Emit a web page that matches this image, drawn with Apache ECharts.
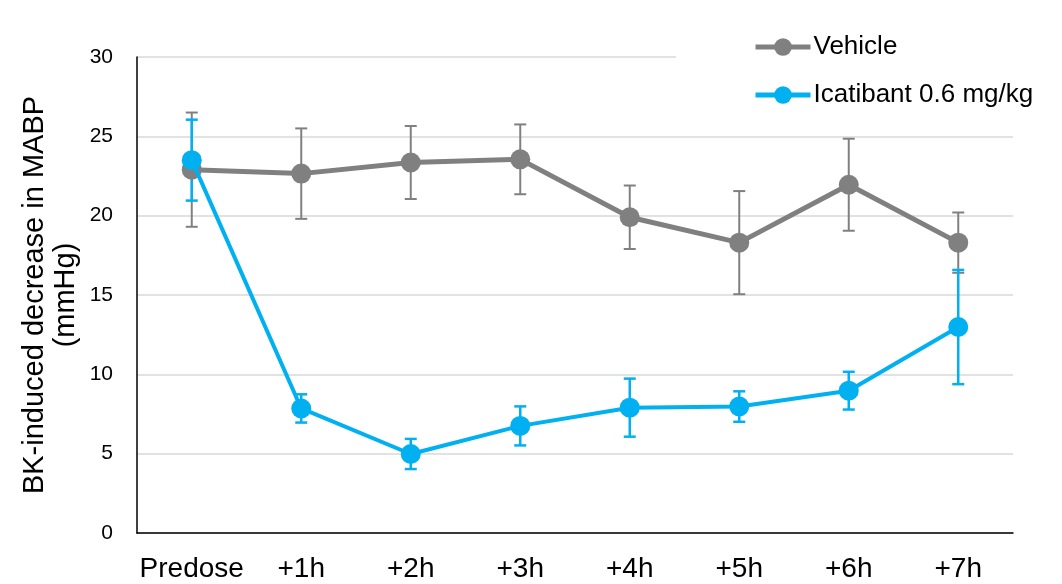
<!DOCTYPE html>
<html>
<head>
<meta charset="utf-8">
<script src="https://cdn.jsdelivr.net/npm/echarts@6/dist/echarts.min.js"></script>
<style>html,body{margin:0;padding:0;background:#fff}#c{width:1062px;height:584px}</style>
</head>
<body>
<div id="c"></div>
<script>
var categories = ['Predose', '+1h', '+2h', '+3h', '+4h', '+5h', '+6h', '+7h'];
var vehicleMean = [22.9, 22.65, 23.35, 23.55, 19.9, 18.3, 21.95, 18.3];
var vehicleErr  = [3.6, 2.85, 2.3, 2.2, 2.0, 3.25, 2.9, 1.9];
var icaMean = [23.5, 7.85, 4.98, 6.75, 7.9, 7.97, 8.97, 12.98];
var icaErr  = [2.55, 0.89, 0.95, 1.23, 1.83, 0.96, 1.19, 3.6];
var yTicks = [0, 5, 10, 15, 20, 25, 30];

var FONT = '"Liberation Sans", Arial, sans-serif';
var GRAY = '#808080', BLUE = '#00b0f0';

function errSeries(name, means, errs, color, lw) {
  var data = means.map(function (m, i) { return [i, m - errs[i], m + errs[i]]; });
  return {
    type: 'custom', name: name + ' err', silent: true, z: 2,
    data: data,
    encode: { x: 0, y: [1, 2] },
    renderItem: function (params, api) {
      var x = api.value(0);
      var lo = api.coord([x, api.value(1)]);
      var hi = api.coord([x, api.value(2)]);
      var hw = 6;
      var st = { stroke: color, lineWidth: lw };
      return {
        type: 'group',
        children: [
          { type: 'line', shape: { x1: lo[0], y1: lo[1], x2: hi[0], y2: hi[1] }, style: st },
          { type: 'line', shape: { x1: lo[0] - hw, y1: lo[1], x2: lo[0] + hw, y2: lo[1] }, style: st },
          { type: 'line', shape: { x1: hi[0] - hw, y1: hi[1], x2: hi[0] + hw, y2: hi[1] }, style: st }
        ]
      };
    }
  };
}

var chart = echarts.init(document.getElementById('c'), null, { renderer: 'canvas' });
chart.setOption({
  animation: false,
  backgroundColor: '#fff',
  textStyle: { fontFamily: FONT },
  grid: { left: 137, right: 49, top: 57, bottom: 51, containLabel: false },
  legend: {
    orient: 'vertical',
    left: 676, top: 24,
    padding: [10, 30, 10, 77],
    backgroundColor: '#fff',
    z: 10,
    itemWidth: 55, itemHeight: 22, itemGap: 22,
    lineStyle: { width: 5 },
    textStyle: { fontSize: 26, color: '#000', fontFamily: FONT, padding: [0, 0, 0, -2] },
    data: ['Vehicle', 'Icatibant 0.6 mg/kg']
  },
  xAxis: {
    type: 'category', data: categories, boundaryGap: true,
    axisLine: { lineStyle: { color: '#000', width: 1.5 } },
    axisTick: { show: false },
    axisLabel: { fontSize: 28, color: '#000', margin: 22, fontFamily: FONT, interval: 0 },
    splitLine: { show: false }
  },
  yAxis: {
    type: 'value', min: yTicks[0], max: yTicks[yTicks.length - 1], interval: 5,
    name: 'BK-induced decrease in MABP\n(mmHg)',
    nameLocation: 'middle', nameGap: 56, nameMoveOverlap: false,
    nameTextStyle: { fontSize: 29, color: '#000', fontFamily: FONT, lineHeight: 31 },
    axisLine: { show: true, lineStyle: { color: '#000', width: 1.5 } },
    axisTick: { show: false },
    axisLabel: { fontSize: 21, color: '#000', margin: 24, fontFamily: FONT },
    splitLine: { lineStyle: { color: '#d9d9d9', width: 1.5 } }
  },
  series: [
    errSeries('Vehicle', vehicleMean, vehicleErr, GRAY, 2),
    {
      type: 'line', name: 'Vehicle', data: vehicleMean, z: 3,
      symbol: 'circle', symbolSize: 20,
      lineStyle: { color: GRAY, width: 5 },
      itemStyle: { color: GRAY }
    },
    errSeries('Icatibant', icaMean, icaErr, BLUE, 2.5),
    {
      type: 'line', name: 'Icatibant 0.6 mg/kg', data: icaMean, z: 5,
      symbol: 'circle', symbolSize: 20,
      lineStyle: { color: BLUE, width: 4 },
      itemStyle: { color: BLUE }
    }
  ]
});
</script>
</body>
</html>
